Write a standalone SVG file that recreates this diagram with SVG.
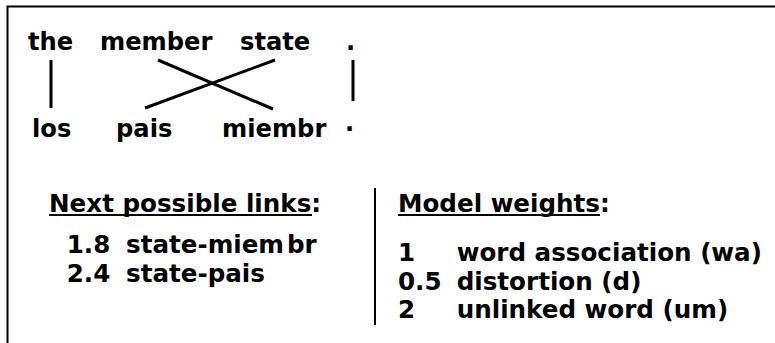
<svg xmlns="http://www.w3.org/2000/svg" width="775" height="343" viewBox="0 0 775 343">
  <style>
    .w { font-family: "DejaVu Sans", "Liberation Sans", sans-serif; font-weight: bold; font-size: 24.2px; fill: #000; }
    .p { font-family: "DejaVu Sans", "Liberation Sans", sans-serif; font-weight: bold; font-size: 24.6px; fill: #000; }
    .link { stroke: #000; stroke-width: 3; fill: none; }
    .frame { stroke: #000; stroke-width: 2; fill: none; }
    .rule { stroke: #000; stroke-width: 2; }
  </style>
  <rect x="0" y="0" width="775" height="343" fill="#fff"/>
  <!-- open frame: top and left edges only -->
  <path class="frame" d="M7.5,343 V6.5 H775"/>

  <!-- English words -->
  <g id="en-the"><text class="w" x="28" y="50">the</text></g>
  <g id="en-member"><text class="w" x="100" y="50">member</text></g>
  <g id="en-state"><text class="w" x="240" y="50">state</text></g>
  <g id="en-period"><text class="w" x="346" y="50">.</text></g>

  <!-- Spanish words -->
  <g id="es-los"><text class="w" x="32" y="137">los</text></g>
  <g id="es-pais"><text class="w" x="116" y="137">pais</text></g>
  <g id="es-miembr"><text class="w" x="222" y="137">miembr</text></g>
  <g id="es-period"><text class="w" x="345" y="137">·</text></g>

  <!-- alignment links -->
  <g id="links">
    <line class="link" x1="51" y1="60" x2="51" y2="108"/>
    <line class="link" x1="158" y1="60" x2="273" y2="109"/>
    <line class="link" x1="275" y1="60" x2="145" y2="108"/>
    <line class="link" x1="353" y1="60" x2="353" y2="101"/>
  </g>

  <!-- candidate links panel -->
  <g id="next-links">
    <text class="p" x="49" y="212">Next possible links:</text>
    <line class="rule" x1="49" y1="215" x2="312" y2="215"/>
    <text class="p" x="66.7" y="253">1.8</text>
    <text class="p" x="126" y="253">state-miem<tspan dx="3">br</tspan></text>
    <text class="p" x="66.7" y="282">2.4</text>
    <text class="p" x="126" y="282">state-pais</text>
  </g>

  <line class="rule" x1="375" y1="188" x2="375" y2="325"/>

  <!-- weights panel -->
  <g id="model-weights">
    <text class="p" x="398" y="212">Model weights:</text>
    <line class="rule" x1="398" y1="215" x2="600" y2="215"/>
    <text class="p" x="398" y="261">1</text>
    <text class="p" x="456.7" y="261">word association (wa)</text>
    <text class="p" x="398" y="289.5">0.5</text>
    <text class="p" x="456.7" y="289.5">distortion (d)</text>
    <text class="p" x="398" y="318">2</text>
    <text class="p" x="456.7" y="318">unlinked word (um)</text>
  </g>
</svg>
